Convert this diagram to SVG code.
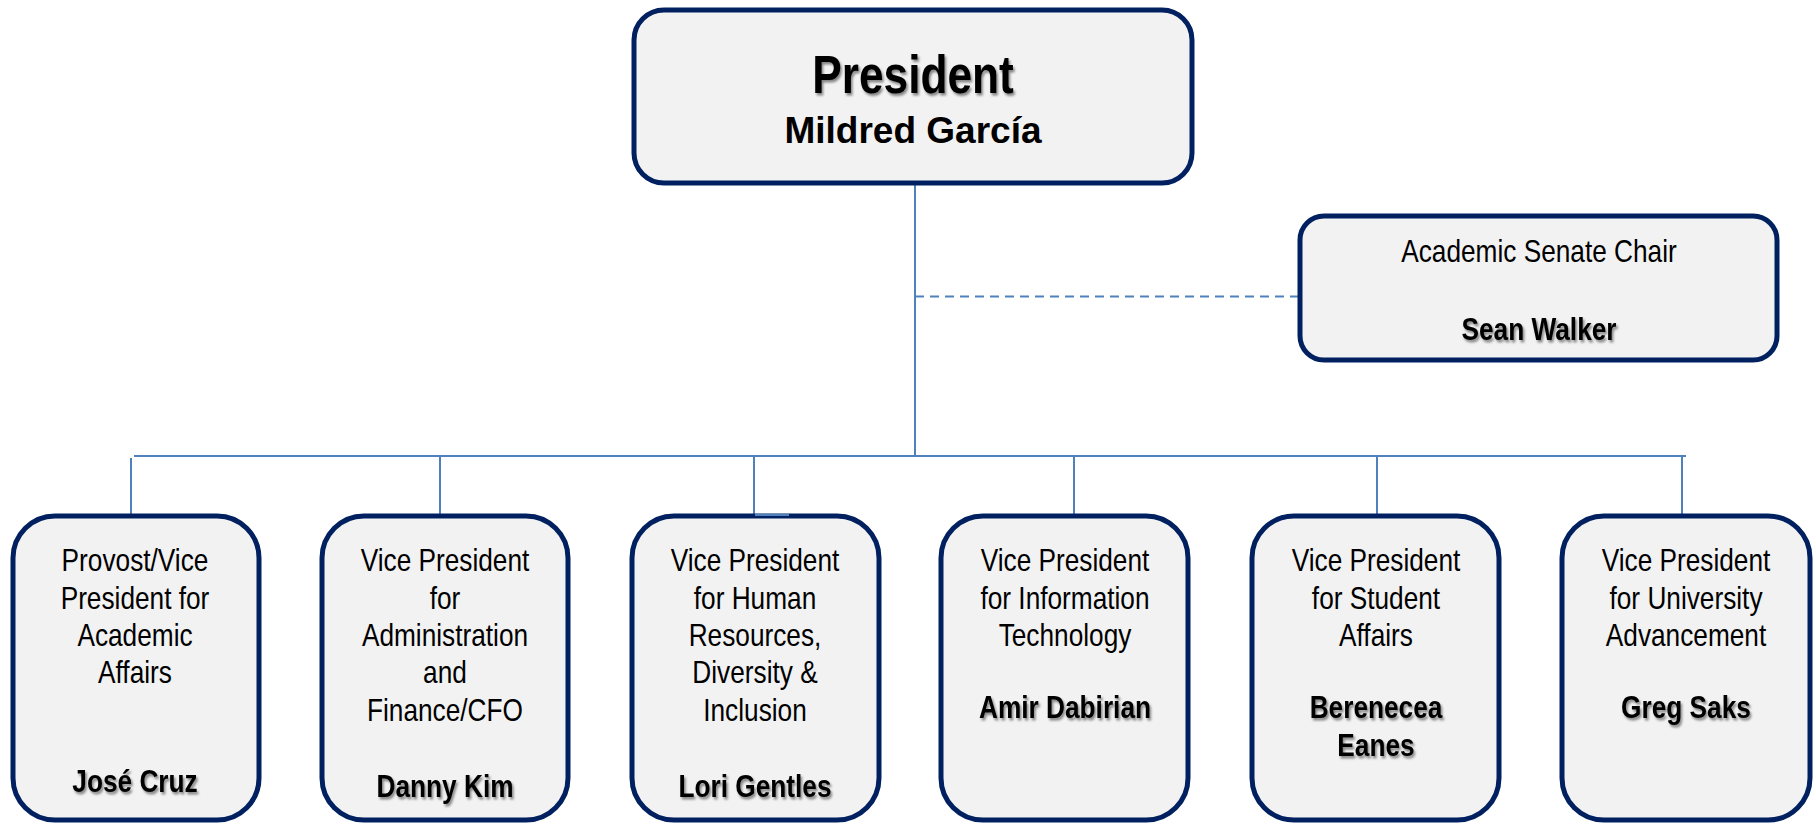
<svg xmlns="http://www.w3.org/2000/svg" width="1816" height="824" viewBox="0 0 1816 824">
<defs>
<filter id="sh" x="-10%" y="-30%" width="130%" height="160%">
<feDropShadow dx="2" dy="2.5" stdDeviation="1.2" flood-color="#000" flood-opacity="0.45"/>
</filter>
<style>
.box{fill:#f2f2f2;stroke:#002060;stroke-width:5}
.t{font-family:"Liberation Sans",Arial,sans-serif;font-size:32px;fill:#000;text-anchor:middle}
.n{font-family:"Liberation Sans",Arial,sans-serif;font-size:32px;font-weight:bold;fill:#000;text-anchor:middle;filter:url(#sh)}
.c{stroke:#4f81bd;stroke-width:2;fill:none}
</style>
</defs>
<rect width="1816" height="824" fill="#fff"/>
<g id="connectors">
<line class="c" x1="915" y1="183" x2="915" y2="456"/>
<line class="c" x1="915" y1="296.5" x2="1299" y2="296.5" stroke-dasharray="9,6"/>
<line class="c" x1="134" y1="456" x2="1686" y2="456" stroke-width="3"/>
<line class="c" x1="131" y1="458" x2="131" y2="515"/>
<line class="c" x1="440" y1="456" x2="440" y2="515"/>
<line class="c" x1="754" y1="456" x2="754" y2="515"/>
<line class="c" x1="1074" y1="456" x2="1074" y2="515"/>
<line class="c" x1="1377" y1="456" x2="1377" y2="515"/>
<line class="c" x1="1682" y1="456" x2="1682" y2="515"/>
</g>
<g id="president">
<rect class="box" x="634" y="10" width="558" height="173" rx="30"/>
<g transform="translate(913 0) scale(0.82 1)">
<text x="0" y="93" font-family="'Liberation Sans',Arial,sans-serif" font-size="54" font-weight="bold" text-anchor="middle" filter="url(#sh)">President</text>
</g>
<text x="913" y="143" font-family="'Liberation Sans',Arial,sans-serif" font-size="37" font-weight="bold" text-anchor="middle">Mildred García</text>
</g>
<g id="senate">
<rect class="box" x="1300" y="216" width="477" height="144" rx="24"/>
<g transform="translate(1539 0) scale(0.82 1)">
<text class="t" x="0" y="262">Academic Senate Chair</text>
<text class="n" x="0" y="340">Sean Walker</text>
</g>
</g>
<g id="vp1">
<rect class="box" x="13" y="516" width="246" height="304" rx="42"/>
<g transform="translate(135 0) scale(0.82 1)">
<text class="t" x="0" y="571">Provost/Vice</text>
<text class="t" x="0" y="609">President for</text>
<text class="t" x="0" y="646">Academic</text>
<text class="t" x="0" y="683">Affairs</text>
<text class="n" x="0" y="792">José Cruz</text>
</g>
</g>
<g id="vp2">
<rect class="box" x="322" y="516" width="246" height="304" rx="42"/>
<g transform="translate(445 0) scale(0.82 1)">
<text class="t" x="0" y="571">Vice President</text>
<text class="t" x="0" y="609">for</text>
<text class="t" x="0" y="646">Administration</text>
<text class="t" x="0" y="683">and</text>
<text class="t" x="0" y="721">Finance/CFO</text>
<text class="n" x="0" y="797">Danny Kim</text>
</g>
</g>
<g id="vp3">
<rect class="box" x="632" y="516" width="247" height="304" rx="42"/>
<line x1="755" y1="515" x2="789" y2="515" stroke="#4f81bd" stroke-width="2"/>
<g transform="translate(755 0) scale(0.82 1)">
<text class="t" x="0" y="571">Vice President</text>
<text class="t" x="0" y="609">for Human</text>
<text class="t" x="0" y="646">Resources,</text>
<text class="t" x="0" y="683">Diversity &amp;</text>
<text class="t" x="0" y="721">Inclusion</text>
<text class="n" x="0" y="797">Lori Gentles</text>
</g>
</g>
<g id="vp4">
<rect class="box" x="941" y="516" width="247" height="304" rx="42"/>
<g transform="translate(1065 0) scale(0.82 1)">
<text class="t" x="0" y="571">Vice President</text>
<text class="t" x="0" y="609">for Information</text>
<text class="t" x="0" y="646">Technology</text>
<text class="n" x="0" y="718">Amir Dabirian</text>
</g>
</g>
<g id="vp5">
<rect class="box" x="1252" y="516" width="247" height="304" rx="42"/>
<g transform="translate(1376 0) scale(0.82 1)">
<text class="t" x="0" y="571">Vice President</text>
<text class="t" x="0" y="609">for Student</text>
<text class="t" x="0" y="646">Affairs</text>
<text class="n" x="0" y="718">Berenecea</text>
<text class="n" x="0" y="756">Eanes</text>
</g>
</g>
<g id="vp6">
<rect class="box" x="1562" y="516" width="248" height="304" rx="42"/>
<g transform="translate(1686 0) scale(0.82 1)">
<text class="t" x="0" y="571">Vice President</text>
<text class="t" x="0" y="609">for University</text>
<text class="t" x="0" y="646">Advancement</text>
<text class="n" x="0" y="718">Greg Saks</text>
</g>
</g>
</svg>
